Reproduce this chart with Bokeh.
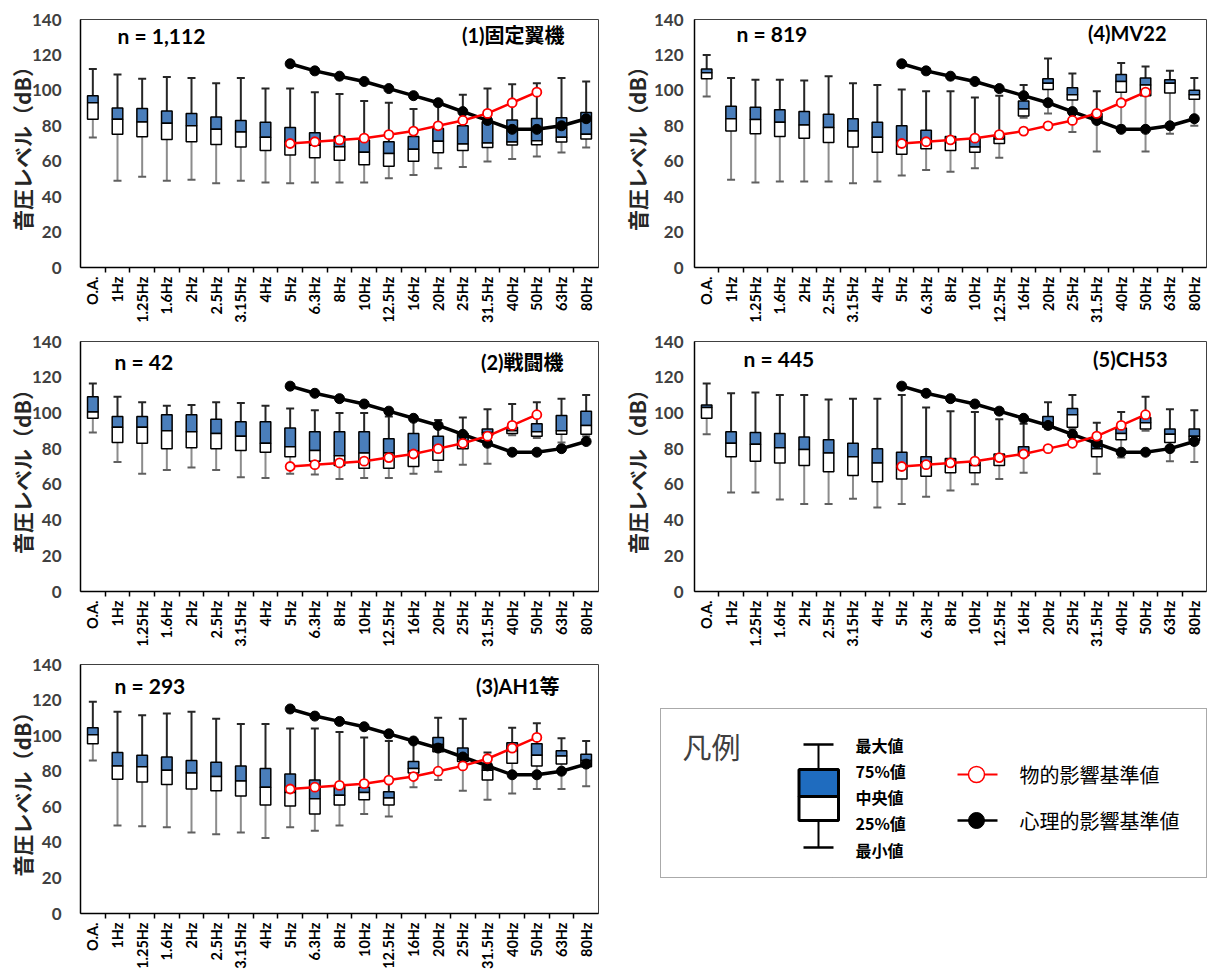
import math
from bokeh.plotting import figure
from bokeh.layouts import column, row
from bokeh.models import Range1d, FixedTicker, Label
from bokeh.embed import file_html
from bokeh.resources import INLINE

# ---------------- data ----------------
cats = ["O.A.", "1Hz", "1.25Hz", "1.6Hz", "2Hz", "2.5Hz", "3.15Hz", "4Hz", "5Hz", "6.3Hz", "8Hz",
        "10Hz", "12.5Hz", "16Hz", "20Hz", "25Hz", "31.5Hz", "40Hz", "50Hz", "63Hz", "80Hz"]
y_ticks = [0, 20, 40, 60, 80, 100, 120, 140]

# (1) fixed wing
max1 = [112, 109, 106.5, 107.5, 107, 104, 107, 101, 101, 99, 98, 94, 93, 89.5, 93, 97.5, 101, 103.5, 104, 107, 105]
q3_1 = [97, 90, 89.8, 88.3, 87, 85, 83, 82, 79, 76, 74, 72, 71, 74, 78.5, 80, 82.3, 83.2, 84.1, 84.5, 87.5]
med1 = [93, 83.7, 82.2, 81.4, 80, 78, 76.5, 73.5, 71, 69, 68.2, 65, 64.3, 66.7, 71.2, 69.7, 70.3, 70.8, 71.5, 73.5, 75.2]
q1_1 = [83.7, 75.2, 73.8, 72.3, 71, 69.5, 68, 66, 63.5, 62, 60.5, 58, 57.2, 60, 64.8, 66.1, 67.8, 69.2, 69.3, 70.9, 72.5]
min1 = [73.4, 49, 51.2, 49, 49.5, 47.5, 49, 48, 47.5, 48, 48, 48, 50.4, 52.2, 56, 56.8, 59.8, 61.2, 62.6, 64.9, 67.8]

# (2) fighter
max2 = [116.5, 109, 106, 104, 104.5, 106, 105.5, 104, 102.5, 101.5, 100, 100, 98, 96, 96, 97.5, 102, 105, 106, 108, 110]
q3_2 = [109, 98, 98, 99, 99, 96.5, 95, 95, 91.5, 89.5, 89.5, 89.5, 85.5, 88.5, 87, 88.5, 91, 92, 94, 98.5, 101]
med2 = [100.5, 92, 92, 90, 89.5, 88.5, 87, 83, 81, 79, 76, 77.5, 77.5, 78.5, 80, 83, 89, 90, 89.5, 90, 93]
q1_2 = [97, 83.5, 83, 80, 80.5, 80, 79, 78, 75.5, 73, 70.5, 69, 69, 70, 73.5, 80, 87.5, 88.5, 87, 88, 88]
min2 = [89, 72.5, 66, 68, 69.5, 68, 64, 63.5, 66, 65.5, 63, 63.5, 63.5, 66, 67, 71, 71.5, 87.5, 86, 83.5, 87]

# (3) AH1 etc.
max3 = [119, 113.5, 111.5, 112.5, 113.5, 109.5, 106.5, 106.5, 104, 104, 102, 99, 97, 97, 110, 109.5, 90.5, 104.5, 107, 98.5, 97]
q3_3 = [104.5, 90.5, 89, 88, 86, 85, 83, 81.5, 78.5, 75, 71.5, 71, 68.5, 85.5, 99, 93, 83, 96, 95.5, 91.5, 89.5]
med3 = [100.5, 83, 82.5, 80.5, 79, 77, 74.5, 71, 68, 64.5, 66.5, 68, 65, 81.5, 95, 89, 80.5, 91.5, 89, 88.5, 86]
q1_3 = [95.5, 75.5, 74, 72.5, 70, 69, 66, 61, 60.5, 56, 61, 64, 61, 79, 91, 85.5, 75, 84.5, 83, 84, 82.5]
min3 = [86, 49.5, 49, 48.5, 45.5, 44.5, 45.5, 42.5, 48.5, 46.5, 49.5, 56, 54.5, 71, 75, 69, 64, 67.5, 70, 70, 71.5]

# (4) MV22
max4 = [120, 107, 106, 106, 105.5, 108, 104, 103, 100.5, 99.5, 99.5, 96, 97, 103, 118, 109.5, 99.5, 115.5, 113.5, 111, 107]
q3_4 = [112, 91, 90.5, 89, 88, 86.5, 84, 82, 80, 77.5, 74, 73, 74.5, 94, 106.5, 101.5, 87, 109, 107, 106, 100]
med4 = [110, 84, 83.5, 82, 80.5, 79, 77, 73.5, 71.5, 71, 70.5, 68, 72.5, 89.5, 104, 97.5, 85, 105, 103, 104, 97.5]
q1_4 = [106.5, 77, 75.5, 74, 73, 70.5, 68, 65, 64, 67, 66, 65, 70, 85.5, 100.5, 94.5, 83, 99, 97, 98.5, 95]
min4 = [96.5, 49.5, 48, 48.5, 48.5, 48.5, 47.5, 48.5, 52, 55, 54, 56, 62, 84.5, 87, 76.5, 65.5, 80, 65.5, 75.5, 80]

# (5) CH53
max5 = [116.5, 111, 111.5, 110, 110, 107.5, 108, 108, 110, 103, 101, 100.5, 96.5, 94, 106, 110, 94.5, 100.5, 109, 102, 101.5]
q3_5 = [104.5, 89.5, 89, 88.5, 86.5, 85, 83, 80, 78, 75.5, 74.5, 72.5, 77, 81, 98, 102.5, 84.5, 91.5, 97.5, 91, 91]
med5 = [103, 83, 82.5, 80.5, 79.5, 77.5, 75.5, 72, 69.5, 72.5, 71.5, 70.5, 74, 78, 94.5, 99, 80, 88.5, 94.5, 88, 87]
q1_5 = [97, 75.5, 73, 72, 70.5, 67, 65, 61.5, 63, 64.5, 66.5, 66.5, 70.5, 76, 92, 92, 75.5, 85, 91, 83.5, 84.5]
min5 = [88, 55.5, 55.5, 51.5, 49, 49, 52, 47, 49, 53, 56.5, 60, 63, 66.5, 91, 91, 66, 75, 90, 73, 72.5]

# reference criteria
phys_freqs = ["5Hz", "6.3Hz", "8Hz", "10Hz", "12.5Hz", "16Hz", "20Hz", "25Hz", "31.5Hz", "40Hz", "50Hz"]
phys_vals = [70, 71, 72, 73, 75, 77, 80, 83, 87, 93, 99]
psych_freqs = ["5Hz", "6.3Hz", "8Hz", "10Hz", "12.5Hz", "16Hz", "20Hz", "25Hz", "31.5Hz", "40Hz", "50Hz", "63Hz", "80Hz"]
psych_vals = [115, 111, 108, 105, 101, 97, 93, 88, 83, 78, 78, 80, 84]

n_texts = ["n = 1,112", "n = 42", "n = 293", "n = 819", "n = 445"]
titles = ["(1)固定翼機", "(2)戦闘機", "(3)AH1等", "(4)MV22", "(5)CH53"]
y_label = "音圧レベル（dB）"

legend_title = "凡例"
legend_box_labels = ["最大値", "75%値", "中央値", "25%値", "最小値"]
legend_line_labels = ["物的影響基準値", "心理的影響基準値"]

# ---------------- style ----------------
BLUE = "#4A7EBB"
LATIN = "Lato, Noto Sans CJK JP"
CJK = "Noto Sans CJK JP"


def panel(stats, n_text, title, width, height, mbl, mbr, mbt, mbb, n_dx, t_dx, dy,
          tick_standoff, lab_standoff):
    mx, q3, md, q1, mn = stats
    xs = list(range(len(cats)))
    frame_h = height - mbt - mbb
    p = figure(width=width, height=height,
               x_range=Range1d(-0.5, len(cats) - 0.5), y_range=Range1d(0, 140),
               output_backend="svg", toolbar_location=None,
               min_border_left=mbl, min_border_right=mbr,
               min_border_top=mbt, min_border_bottom=mbb)
    p.grid.visible = False
    p.outline_line_color = "#404040"
    p.outline_line_width = 1
    p.background_fill_color = "white"
    p.border_fill_color = "white"

    xa = p.xaxis[0]
    xa.ticker = FixedTicker(ticks=xs, minor_ticks=[i - 0.5 for i in range(1, len(cats))])
    xa.major_label_overrides = {i: c for i, c in enumerate(cats)}
    xa.major_tick_out = 0
    xa.major_tick_in = 0
    xa.minor_tick_out = 5
    xa.minor_tick_in = 0
    xa.minor_tick_line_color = "black"
    xa.minor_tick_line_width = 1.5
    xa.axis_line_color = "black"
    xa.axis_line_width = 1.5
    xa.major_label_orientation = math.pi / 2
    xa.major_label_standoff = 4
    xa.major_label_text_font = LATIN
    xa.major_label_text_font_size = "14.5px"
    xa.major_label_text_font_style = "bold"
    xa.major_label_text_color = "black"

    ya = p.yaxis[0]
    ya.ticker = FixedTicker(ticks=y_ticks)
    ya.major_tick_out = 0
    ya.major_tick_in = 0
    ya.minor_tick_out = 0
    ya.minor_tick_in = 0
    ya.minor_tick_line_color = None
    ya.axis_line_color = "black"
    ya.axis_line_width = 1.5
    ya.major_label_standoff = tick_standoff
    ya.major_label_text_font = LATIN
    ya.major_label_text_font_size = "17px"
    ya.major_label_text_font_style = "bold"
    ya.major_label_text_color = "#404040"
    ya.axis_label = y_label
    ya.axis_label_text_font = CJK
    ya.axis_label_text_font_size = "21px"
    ya.axis_label_text_font_style = "bold"
    ya.axis_label_text_color = "#262626"
    ya.axis_label_standoff = lab_standoff

    # whiskers
    p.segment(x0=xs, y0=q3, x1=xs, y1=mx, line_color="#262626", line_width=2)
    p.segment(x0=xs, y0=mn, x1=xs, y1=q1, line_color="#8c8c8c", line_width=2)
    p.scatter(x=xs, y=mx, marker="dash", size=8, line_color="#262626", line_width=2)
    p.scatter(x=xs, y=mn, marker="dash", size=8, line_color="#606060", line_width=2)
    # boxes
    p.vbar(x=xs, width=0.43, bottom=md, top=q3, fill_color=BLUE, line_color="black", line_width=1.5)
    p.vbar(x=xs, width=0.43, bottom=q1, top=md, fill_color="white", line_color="black", line_width=1.5)

    # criteria lines
    psx = [cats.index(f) for f in psych_freqs]
    phx = [cats.index(f) for f in phys_freqs]
    p.line(psx, psych_vals, line_color="black", line_width=3.5)
    p.scatter(psx, psych_vals, marker="circle", size=10, fill_color="black", line_color="black")
    p.line(phx, phys_vals, line_color="#FF0000", line_width=2.5)
    p.scatter(phx, phys_vals, marker="circle", size=9, fill_color="white", line_color="#FF0000", line_width=1.8)

    ty = 140 * (1 - dy / frame_h)
    p.add_layout(Label(x=-0.5, y=ty, x_offset=n_dx, text=n_text, text_font=LATIN,
                       text_font_size="21px", text_font_style="bold", text_color="black",
                       text_baseline="middle", text_align="left"))
    p.add_layout(Label(x=len(cats) - 0.5, y=ty, x_offset=-t_dx, text=title, text_font=LATIN,
                       text_font_size="20px", text_font_style="bold", text_color="black",
                       text_baseline="middle", text_align="right"))
    return p


LW, RW = 600, 608
# rows: 0-325, 325-649, 649-974
f1 = panel((max1, q3_1, med1, q1_1, min1), n_texts[0], titles[0], LW, 325, 80, 2, 19, 57, 37, 34, 16, 19, -8)
f2 = panel((max2, q3_2, med2, q1_2, min2), n_texts[1], titles[1], LW, 324, 80, 2, 16, 58, 34, 35, 20, 19, -8)
f3 = panel((max3, q3_3, med3, q1_3, min3), n_texts[2], titles[2], LW, 325, 80, 2, 15, 61, 34, 39, 21, 19, -8)
f4 = panel((max4, q3_4, med4, q1_4, min4), n_texts[3], titles[3], RW, 325, 94, 2, 19, 57, 42, 40, 14, 11, -1)
f5 = panel((max5, q3_5, med5, q1_5, min5), n_texts[4], titles[4], RW, 324, 94, 2, 16, 58, 49, 39, 17, 11, -1)

# ---------------- legend panel (coordinates in page pixels) ----------------
lg = figure(width=RW, height=325, x_range=Range1d(600, 1208), y_range=Range1d(913, 664),
            output_backend="svg", toolbar_location=None,
            x_axis_type=None, y_axis_type=None,
            min_border_left=0, min_border_right=0, min_border_top=15, min_border_bottom=61)
lg.grid.visible = False
lg.outline_line_color = None
lg.quad(left=660, right=1206, top=708, bottom=877, fill_color=None,
        line_color="#555555", line_width=1, line_dash="1 1")
lg.add_layout(Label(x=682, y=745, text=legend_title, text_font=CJK, text_font_size="29px",
                    text_color="#404040", text_baseline="middle", text_align="left"))
# box symbol
lg.segment(x0=[818, 818], y0=[744, 820], x1=[818, 818], y1=[769, 847], line_color="black", line_width=2)
lg.segment(x0=[803, 803], y0=[744, 847], x1=[833, 833], y1=[744, 847], line_color="black", line_width=2.5)
lg.quad(left=[798.5], right=[838], top=[769], bottom=[796], fill_color="#1F6CBF",
        line_color="black", line_width=3)
lg.quad(left=[798.5], right=[838], top=[796], bottom=[820], fill_color="white",
        line_color="black", line_width=3)
for yy, t in zip([744, 770, 796, 822, 849], legend_box_labels):
    lg.add_layout(Label(x=855, y=yy, text=t, text_font=CJK, text_font_size="16px",
                        text_font_style="bold", text_color="black",
                        text_baseline="middle", text_align="left"))
# line symbols
lg.line([957, 997], [774, 774], line_color="#FF0000", line_width=2)
lg.scatter([976], [774], marker="circle", size=16, fill_color="white", line_color="#FF0000", line_width=1.5)
lg.line([957, 997], [820, 820], line_color="black", line_width=2.5)
lg.scatter([976], [820], marker="circle", size=16, fill_color="black", line_color="black")
for yy, t in zip([774, 820], legend_line_labels):
    lg.add_layout(Label(x=1019, y=yy, text=t, text_font=CJK, text_font_size="20px",
                        text_color="black", text_baseline="middle", text_align="left"))

layout = column(row(f1, f4), row(f2, f5), row(f3, lg))

with open("out.html", "w") as fh:
    fh.write(file_html(layout, INLINE))
